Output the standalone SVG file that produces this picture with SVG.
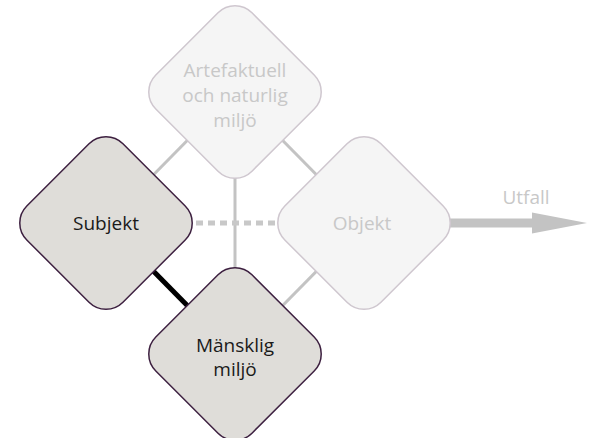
<svg xmlns="http://www.w3.org/2000/svg" width="590" height="438" viewBox="0 0 590 438">
  <style>
    .node-dark rect { fill: #dfddd9; stroke: #3d2040; stroke-width: 1.5; }
    .node-light rect { fill: #f5f5f5; stroke: #cfc7cf; stroke-width: 1.5; }
    text { font-family: "Open Sans", "Noto Sans", sans-serif; font-size: 19px; text-anchor: middle; }
    .t-dark { fill: #1a1a1a; }
    .t-light { fill: #c8c8c8; }
    .conn { stroke: #c3c3c3; stroke-width: 3; fill: none; }
    .dash { stroke: #c8c8c8; stroke-width: 5; stroke-dasharray: 7 5; fill: none; }
    .strong { stroke: #000000; stroke-width: 5; fill: none; }
    .arrow { fill: #c3c3c3; }
  </style>
  <rect width="590" height="438" fill="#ffffff"/>
  <g id="connectors">
    <line class="conn" x1="235" y1="92" x2="106" y2="223"/>
    <line class="conn" x1="235" y1="92" x2="364" y2="223"/>
    <line class="conn" x1="235" y1="92" x2="235" y2="354"/>
    <line class="conn" x1="364" y1="223" x2="235" y2="354"/>
    <line class="dash" x1="196" y1="223" x2="276" y2="223"/>
    <line class="strong" x1="106" y1="223" x2="235" y2="354"/>
    <path class="arrow" d="M440,218.5 H532 V212.5 L587,223 L532,233.5 V227.5 H440 Z"/>
  </g>
  <g id="node-artefaktuell" class="node-light" transform="translate(235,92)">
    <rect x="-68" y="-68" width="136" height="136" rx="24" ry="24" transform="rotate(45)"/>
    <text class="t-light" x="0" y="-15">Artefaktuell</text>
    <text class="t-light" x="0" y="10">och naturlig</text>
    <text class="t-light" x="0" y="35">miljö</text>
  </g>
  <g id="node-subjekt" class="node-dark" transform="translate(106,223)">
    <rect x="-68" y="-68" width="136" height="136" rx="24" ry="24" transform="rotate(45)"/>
    <text class="t-dark" x="0" y="6.5">Subjekt</text>
  </g>
  <g id="node-objekt" class="node-light" transform="translate(364,223)">
    <rect x="-68" y="-68" width="136" height="136" rx="24" ry="24" transform="rotate(45)"/>
    <text class="t-light" x="-2" y="6.5">Objekt</text>
  </g>
  <g id="node-mansklig" class="node-dark" transform="translate(235,354)">
    <rect x="-68" y="-68" width="136" height="136" rx="24" ry="24" transform="rotate(45)"/>
    <text class="t-dark" x="0" y="-2">Mänsklig</text>
    <text class="t-dark" x="0" y="22">miljö</text>
  </g>
  <g id="label-utfall">
    <text class="t-light" x="526" y="204">Utfall</text>
  </g>
</svg>
